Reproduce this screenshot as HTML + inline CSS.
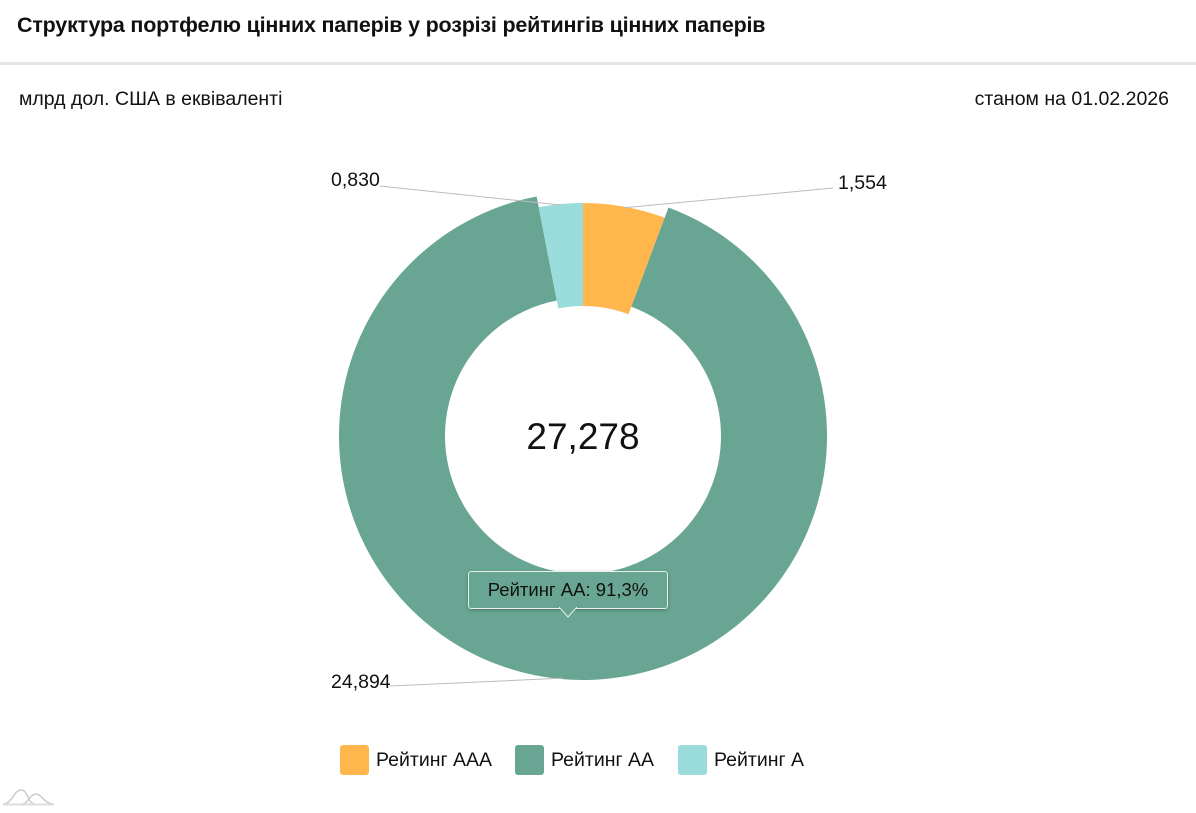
<!DOCTYPE html>
<html><head><meta charset="utf-8"><style>
body{margin:0;width:1196px;height:813px;background:#fff;font-family:"Liberation Sans",sans-serif;overflow:hidden;position:relative}
.t{position:absolute;color:#111;white-space:nowrap}
</style></head><body>
<div class="t" style="left:17px;top:13px;font-size:21.5px;font-weight:bold;letter-spacing:-0.2px">Структура портфелю цінних паперів у розрізі рейтингів цінних паперів</div>
<div style="position:absolute;left:0;top:62px;width:1196px;height:3px;background:#e4e4e4"></div>
<div class="t" style="left:19px;top:88px;font-size:19.5px">млрд дол. США в еквіваленті</div>
<div class="t" style="right:27px;top:88px;font-size:19.5px">станом на 01.02.2026</div>
<svg id="c" width="1196" height="813" style="position:absolute;left:0;top:0"></svg>
<script>
const categories=["Рейтинг AAA","Рейтинг AA","Рейтинг A"];
const values=[1.554,24.894,0.830];
const valueLabels=["1,554","24,894","0,830"];
const colors=["#ffb74d","#68a693","#9adbdb"];
const total=values.reduce((a,b)=>a+b,0);
const cx=583,cy=436;
const svg=document.getElementById('c');
const NS='http://www.w3.org/2000/svg';
function pt(r,a){return [cx+r*Math.sin(a),cy-r*Math.cos(a)];}
function arc(r1,r2,a0,a1){const L=(a1-a0)>Math.PI?1:0;const p=pt(r2,a0),q=pt(r2,a1),s=pt(r1,a1),u=pt(r1,a0);
return `M${p[0]},${p[1]}A${r2},${r2} 0 ${L} 1 ${q[0]},${q[1]}L${s[0]},${s[1]}A${r1},${r1} 0 ${L} 0 ${u[0]},${u[1]}Z`;}
const labelPos=[[838,182],[331,681],[331,179]];
const lineEnds=[[833,188],[390,686],[380,186]];
let a=0;
values.forEach((v,i)=>{
 const a1=a+v/total*2*Math.PI;
 const hov=i===1;
 const p=document.createElementNS(NS,'path');
 p.setAttribute('d',arc(hov?138:130,hov?244:233,a,a1));
 p.setAttribute('fill',colors[i]);
 
 
 svg.appendChild(p);
 const mid=(a+a1)/2;const m=pt(hov?243:232,mid);
 const le=lineEnds[i];
 const ln=document.createElementNS(NS,'line');
 ln.setAttribute('x1',m[0]);ln.setAttribute('y1',m[1]);ln.setAttribute('x2',le[0]);ln.setAttribute('y2',le[1]);
 ln.setAttribute('stroke','#bbb');ln.setAttribute('stroke-width','1');
 
 
 svg.appendChild(ln);
 const lp=labelPos[i];
 const t=document.createElementNS(NS,'text');
 t.setAttribute('x',lp[0]);t.setAttribute('y',lp[1]+7);t.setAttribute('font-size','19.5');t.setAttribute('fill','#111');
 t.setAttribute('font-family','Liberation Sans, sans-serif');
 t.textContent=valueLabels[i];
 
 
 svg.appendChild(t);
 a=a1;
});
const ct=document.createElementNS(NS,'text');
ct.setAttribute('x',cx);ct.setAttribute('y',cy+13);ct.setAttribute('text-anchor','middle');ct.setAttribute('font-size','37');
ct.setAttribute('font-family','Liberation Sans, sans-serif');ct.setAttribute('fill','#111');
ct.textContent=total.toFixed(3).replace('.',',');


svg.appendChild(ct);
</script>
<div style="position:absolute;left:468px;top:571px;width:198px;height:36px;background:#68a693;border:1px solid #e8f0ec;border-radius:3px;box-shadow:0 1px 3px rgba(0,0,0,.3);font-size:18.5px;color:#111;text-align:center;line-height:36px;white-space:nowrap">Рейтинг AA: 91,3%</div>
<svg style="position:absolute;left:559px;top:607px" width="18" height="12"><path d="M0,0L9,10L18,0" fill="#68a693" stroke="#e8f0ec"/></svg>
<div style="position:absolute;left:340px;top:745px;font-size:19.5px;color:#111">
<span style="position:absolute;left:0;display:flex;align-items:center;white-space:nowrap"><i style="display:inline-block;width:29px;height:30px;background:#ffb74d;border-radius:3px;margin-right:7px"></i>Рейтинг AAA</span>
<span style="position:absolute;left:175px;display:flex;align-items:center;white-space:nowrap"><i style="display:inline-block;width:29px;height:30px;background:#68a693;border-radius:3px;margin-right:7px"></i>Рейтинг AA</span>
<span style="position:absolute;left:338px;display:flex;align-items:center;white-space:nowrap"><i style="display:inline-block;width:29px;height:30px;background:#9adbdb;border-radius:3px;margin-right:7px"></i>Рейтинг A</span>
</div>
<svg style="position:absolute;left:2px;top:788px" width="54" height="18"><path d="M1,16 C10,16 12,2 19,2 C26,2 26,16 33,16 M20,16 C26,16 28,6 34,6 C40,6 42,16 52,16" fill="none" stroke="#ccc" stroke-width="1.5"/><line x1="1" y1="16.5" x2="52" y2="16.5" stroke="#ddd" stroke-width="2"/></svg>
</body></html>
